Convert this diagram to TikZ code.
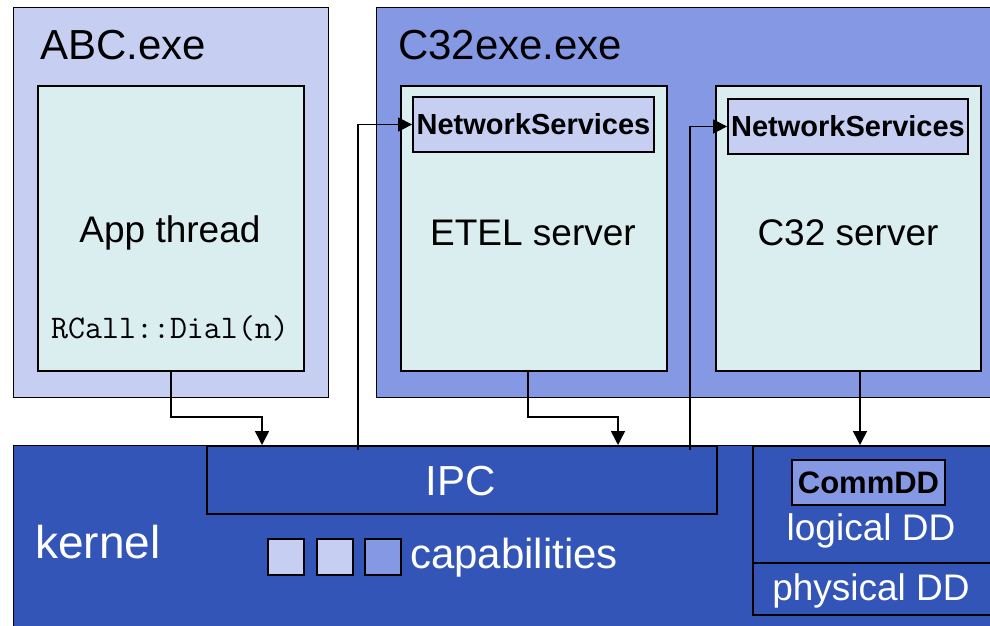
\documentclass[tikz,border=0pt]{standalone}
\usepackage{fontspec}
\setmainfont{Liberation Sans}
\usetikzlibrary{arrows.meta}

\definecolor{lavender}{RGB}{198,207,242}
\definecolor{periwinkle}{RGB}{133,152,227}
\definecolor{royal}{RGB}{52,85,184}
\definecolor{paleaqua}{RGB}{218,238,240}

\tikzset{
	outerbox/.style={draw=black,line width=1.4pt,anchor=north west,inner sep=0pt},
	threadbox/.style={draw=black,line width=1.8pt,fill=paleaqua,anchor=north west,inner sep=0pt},
	svcbox/.style={draw=black,line width=1.8pt,fill=lavender,inner sep=0pt,minimum height=55pt,
		font=\fontsize{29}{33}\selectfont\bfseries},
	capbox/.style={draw=black,line width=1.8pt,minimum size=36pt,inner sep=0pt,anchor=north west},
	bigtxt/.style={font=\fontsize{42}{48}\selectfont,inner sep=0pt},
	midtxt/.style={font=\fontsize{37}{42}\selectfont,inner sep=0pt},
	conn/.style={line width=1.5pt,-{Triangle[length=14pt,width=14pt]}}
}

\begin{document}
\begin{tikzpicture}[x=1pt,y=-1pt]
	\useasboundingbox (0,0) rectangle (990,625);
	
	%processes
	\node[outerbox,fill=lavender,minimum width=315pt,minimum height=390pt] (abc) at (13,7) {};
	\node[outerbox,fill=periwinkle,minimum width=620pt,minimum height=390pt] (c32exe) at (376,7) {};
	\node[bigtxt,anchor=west] (abclbl) at (40,45) {ABC.exe};
	\node[bigtxt,anchor=west] (c32lbl) at (398,45) {C32exe.exe};
	
	%threads
	\node[threadbox,minimum width=266pt,minimum height=285pt] (app) at (37,85) {};
	\node[threadbox,minimum width=266pt,minimum height=285pt] (etel) at (400,85) {};
	\node[threadbox,minimum width=265pt,minimum height=285pt] (c32) at (715,85) {};
	\node[midtxt] (applbl) at (170,233) {App thread};
	\node[font=\fontsize{33}{37}\selectfont\ttfamily,inner sep=0pt] (dial) at (170,328) {RCall::Dial(n)};
	\node[midtxt] (etellbl) at (533,233) {ETEL server};
	\node[midtxt] (c32lbl2) at (848,233) {C32 server};
	\node[svcbox,minimum width=241pt] (ns1) at (533.5,124.5) {NetworkServices};
	\node[svcbox,minimum width=240pt] (ns2) at (848,126.5) {NetworkServices};
	
	%kernel
	\node[outerbox,fill=royal,minimum width=985pt,minimum height=200pt] (kern) at (13,445) {};
	\node[outerbox,draw=black,line width=1.8pt,minimum width=510pt,minimum height=68pt] (ipc) at (206,445) {};
	\node[outerbox,line width=1.8pt,minimum width=245pt,minimum height=169pt] (dd) at (752,445) {};
	\draw[line width=1.8pt] (752,563) -- (997,563);
	\node[bigtxt,text=white] (ipclbl) at (461,481) {IPC};
	\node[bigtxt,text=white,font=\fontsize{46}{52}\selectfont,anchor=west] (kernlbl) at (35,542) {kernel};
	\node[capbox,fill=lavender] (cap1) at (267,538) {};
	\node[capbox,fill=lavender] (cap2) at (316,538) {};
	\node[capbox,fill=periwinkle] (cap3) at (364,538) {};
	\node[bigtxt,text=white,anchor=west] (caplbl) at (410,558) {capabilities};
	\node[draw=black,line width=1.8pt,fill=periwinkle,minimum width=153pt,minimum height=45pt,inner sep=0pt,
		font=\fontsize{31}{35}\selectfont\bfseries] (commdd) at (868.5,482.5) {CommDD};
	\node[midtxt,text=white] (logdd) at (871,531) {logical DD};
	\node[midtxt,text=white] (phydd) at (871,591) {physical DD};
	
	%connectors
	\coordinate (in1) at (262,445);
	\coordinate (in2) at (618,445);
	\coordinate (up1) at (358,450);
	\coordinate (up2) at (690,450);
	\draw[conn] (app.south) -- ++(0,45) -| (in1);
	\draw[conn] (etel.south -| 528,0) -- ++(0,45) -| (in2);
	\draw[conn] (c32.south -| 860,0) -- (dd.north -| 860,0);
	\draw[conn] (up1) |- (ns1.west);
	\draw[conn] (up2) |- (ns2.west);
\end{tikzpicture}
\end{document}
